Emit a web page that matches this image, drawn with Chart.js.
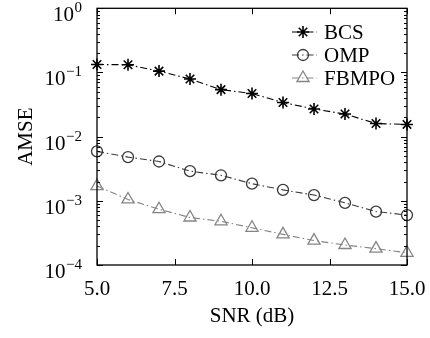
<!DOCTYPE html>
<html>
<head>
<meta charset="utf-8">
<script src="https://cdn.jsdelivr.net/npm/chart.js@4"></script>
<style>
html,body{margin:0;padding:0;background:#fff;}
#wrap{width:430px;height:338px;}
</style>
</head>
<body>
<div id="wrap"><canvas id="c" width="430" height="338"></canvas></div>
<script>
const snr = [5, 6, 7, 8, 9, 10, 11, 12, 13, 14, 15];
const bcs = [0.133, 0.132, 0.105, 0.079, 0.054, 0.047, 0.034, 0.027, 0.0225, 0.016, 0.0155];
const omp = [0.0059, 0.0048, 0.0041, 0.0029, 0.0025, 0.00185, 0.00148, 0.00123, 0.00093, 0.00068, 0.0006];
const fbmpo = [0.0017, 0.00105, 0.00074, 0.00055, 0.00048, 0.00038, 0.0003, 0.00024, 0.000205, 0.00018, 0.000155];
const seriesNames = ['BCS', 'OMP', 'FBMPO'];
const xTicks = [5, 7.5, 10, 12.5, 15];
const yDecades = [1e-4, 1e-3, 1e-2, 1e-1, 1];
const yExponents = ['\u22124', '\u22123', '\u22122', '\u22121', '0'];

const FONT = "'Liberation Serif', 'Times New Roman', serif";
const FS = 21;
const DASH = [7, 3, 1.5, 3];

function pts(arr) { return snr.map((x, i) => ({x: x, y: arr[i]})); }

const colors = ['#000000', '#3a3a3a', '#858585'];
const styles = ['star', 'circle', 'triangle'];
const radii = [6, 5.5, 7];
const datas = [bcs, omp, fbmpo];

const datasets = datas.map((d, i) => ({
  label: seriesNames[i],
  data: pts(d),
  borderColor: colors[i],
  backgroundColor: 'rgba(0,0,0,0)',
  borderWidth: 1.1,
  borderDash: DASH,
  pointStyle: styles[i],
  pointRadius: radii[i],
  pointHoverRadius: radii[i],
  pointBorderColor: colors[i],
  pointBackgroundColor: 'rgba(0,0,0,0)',
  pointBorderWidth: i === 0 ? 1.6 : 1.3,
  tension: 0,
  clip: false
}));

const framePlugin = {
  id: 'frame',
  afterDraw(chart) {
    const ctx = chart.ctx;
    const a = chart.chartArea;
    const xs = chart.scales.x, ys = chart.scales.y;
    ctx.save();
    ctx.strokeStyle = '#000';
    ctx.lineWidth = 1.3;
    ctx.strokeRect(a.left, a.top, a.right - a.left, a.bottom - a.top);
    ctx.lineWidth = 1;
    // x ticks (inside, bottom and top)
    xTicks.forEach(v => {
      const px = Math.round(xs.getPixelForValue(v)) + 0.5;
      ctx.beginPath();
      ctx.moveTo(px, a.bottom); ctx.lineTo(px, a.bottom - 6);
      ctx.moveTo(px, a.top); ctx.lineTo(px, a.top + 6);
      ctx.stroke();
    });
    // y ticks (major and minor, inside, left and right)
    ys.ticks.forEach(t => {
      const v = t.value;
      const major = yDecades.some(d => Math.abs(d - v) / d < 1e-6);
      const len = major ? 6 : 3;
      const py = Math.round(ys.getPixelForValue(v)) + 0.5;
      ctx.beginPath();
      ctx.moveTo(a.left, py); ctx.lineTo(a.left + len, py);
      ctx.moveTo(a.right, py); ctx.lineTo(a.right - len, py);
      ctx.stroke();
    });
    // y decade labels with superscript exponents
    ctx.fillStyle = '#000';
    ctx.textBaseline = 'alphabetic';
    ctx.textAlign = 'left';
    yDecades.forEach((v, i) => {
      const py = ys.getPixelForValue(v);
      ctx.font = '15px ' + FONT;
      const we = ctx.measureText(yExponents[i]).width;
      ctx.font = FS + 'px ' + FONT;
      const wb = ctx.measureText('10').width;
      const right = 82;
      const xb = right - we - wb - 0.5;
      ctx.fillText('10', xb, py + 13);
      ctx.font = '15px ' + FONT;
      ctx.fillText(yExponents[i], xb + wb + 0.5, py + 4);
    });
    // legend
    const lx0 = 292, lx1 = 317, mx = 303, tx = 324;
    const rowY = [32, 55, 78];
    chart.data.datasets.forEach((ds, i) => {
      const y = rowY[i];
      ctx.strokeStyle = ds.borderColor;
      ctx.lineWidth = 1.1;
      ctx.setLineDash(DASH);
      ctx.beginPath();
      ctx.moveTo(lx0, y); ctx.lineTo(lx1, y);
      ctx.stroke();
      ctx.setLineDash([]);
      ctx.strokeStyle = ds.pointBorderColor;
      ctx.fillStyle = 'rgba(0,0,0,0)';
      ctx.lineWidth = ds.pointBorderWidth;
      Chart.helpers.drawPoint(ctx, {
        pointStyle: ds.pointStyle,
        radius: ds.pointRadius,
        borderWidth: ds.pointBorderWidth,
        rotation: 0
      }, mx, y);
      ctx.fillStyle = '#000';
      ctx.font = FS + 'px ' + FONT;
      ctx.textAlign = 'left';
      ctx.textBaseline = 'middle';
      ctx.fillText(ds.label, tx, y + 1);
    });
    ctx.restore();
  }
};

new Chart(document.getElementById('c'), {
  type: 'line',
  data: { datasets: datasets },
  options: {
    responsive: false,
    animation: false,
    events: [],
    layout: { padding: { top: 8, right: 23, left: 0, bottom: 0 } },
    plugins: { legend: { display: false }, tooltip: { enabled: false } },
    scales: {
      x: {
        type: 'linear',
        min: 5, max: 15,
        afterBuildTicks(scale) { scale.ticks = xTicks.map(v => ({value: v})); },
        afterFit(scale) { scale.height = 73; scale.paddingLeft = 0; scale.paddingRight = 0; },
        grid: { display: false, drawTicks: false },
        border: { display: false },
        ticks: {
          color: '#000',
          padding: 12,
          font: { family: FONT, size: FS },
          callback: v => Number(v).toFixed(1),
          maxRotation: 0
        },
        title: {
          display: true,
          text: 'SNR (dB)',
          color: '#000',
          font: { family: FONT, size: FS },
          padding: { top: 0, bottom: 9 }
        }
      },
      y: {
        type: 'logarithmic',
        min: 1e-4, max: 1,
        afterBuildTicks(scale) {
          const t = [];
          for (let e = -4; e <= 0; e++) {
            const base = Math.pow(10, e);
            if (e === 0) { t.push({value: 1}); break; }
            for (let m = 1; m <= 9; m++) t.push({value: m * base});
          }
          scale.ticks = t;
        },
        afterFit(scale) { scale.width = 97; scale.paddingTop = 0; scale.paddingBottom = 0; },
        grid: { display: false, drawTicks: false },
        border: { display: false },
        ticks: { display: false, autoSkip: false },
        title: {
          display: true,
          text: 'AMSE',
          color: '#000',
          font: { family: FONT, size: FS },
          padding: { top: 14, bottom: 0 }
        }
      }
    }
  },
  plugins: [framePlugin]
});
</script>
</body>
</html>
